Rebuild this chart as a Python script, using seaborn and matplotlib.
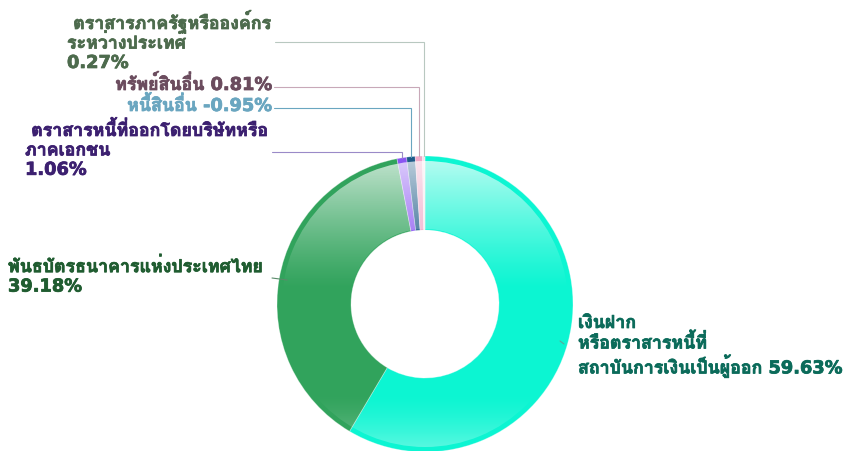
import numpy as np
import matplotlib
matplotlib.use("Agg")
import matplotlib.pyplot as plt
import matplotlib.patheffects as pe
import seaborn as sns
from matplotlib.patches import Wedge

# ---- data ----
labels = [
    "เงินฝาก\nหรือตราสารหนี้ที่\nสถาบันการเงินเป็นผู้ออก 59.63%",
    "พันธบัตรธนาคารแห่งประเทศไทย\n39.18%",
    " ตราสารหนี้ที่ออกโดยบริษัทหรือ\nภาคเอกชน\n1.06%",
    "หนี้สินอื่น -0.95%",
    "ทรัพย์สินอื่น 0.81%",
    " ตราสารภาครัฐหรือองค์กร\nระหว่างประเทศ\n0.27%",
]
values = [59.63, 39.18, 1.06, -0.95, 0.81, 0.27]
slice_colors = ["#0cf5d2", "#31a35c", "#8a55f2", "#1d5a88", "#f0a8c8", "#f6e2ea"]
text_colors = ["#0b6b5a", "#1f5c30", "#3c2070", "#6aa6c0", "#6b4c5e", "#4d6b4d"]
line_colors = ["#5aa89a", "#5a8a6a", "#9a8ac8", "#6aa6c0", "#c8a8b8", "#b8c8c0"]

sns.set_theme(style="white")
plt.rcParams["font.family"] = ["DejaVu Sans", "Loma"]

fs = 12.8

W, H = 843, 451
fig = plt.figure(figsize=(W / 100, H / 100), dpi=100)
ax = fig.add_axes([0, 0, 1, 1])

cx, cy = 425, H - 304
R = 148
ring = 0.5

sizes = [abs(v) for v in values]
wedges, _ = ax.pie(sizes, colors=slice_colors, startangle=90, counterclock=False,
                   center=(cx, cy), radius=R,
                   wedgeprops=dict(width=R * ring, edgecolor="none", linewidth=0))
ax.set_xlim(0, W)
ax.set_ylim(0, H)
ax.set_aspect("equal")
ax.axis("off")

# glossy gradient overlay
ny = 300
yy = np.linspace(0, 1, ny)  # 0 top -> 1 bottom
alpha = np.zeros(ny)
alpha += np.clip(1 - yy / 0.45, 0, 1) ** 1.2 * 0.72
alpha += np.clip((yy - 0.80) / 0.20, 0, 1) ** 1.5 * 0.35
img = np.ones((ny, 2, 4))
img[:, :, 3] = alpha[:, None]
im = ax.imshow(img, extent=(cx - R, cx + R, cy - R, cy + R), origin="upper",
               aspect="auto", zorder=3, interpolation="bilinear")
clip = Wedge((cx, cy), R - 5, 0, 360, width=R - 5 - R * (1 - ring) - 1,
             transform=ax.transData, facecolor="none", edgecolor="none")
ax.add_patch(clip)
im.set_clip_path(clip)
ax.set_xlim(0, W)
ax.set_ylim(0, H)

for w in wedges:
    w.set_edgecolor((1, 1, 1, 0.35))
    w.set_linewidth(0.6)

def edge_point(w, r):
    th = np.deg2rad((w.theta1 + w.theta2) / 2)
    return cx + r * np.cos(th), cy + r * np.sin(th)

# label layout: (x, y_top-from-top, ha, line_y-from-top, line_start_x)
layout = [
    (578, 314, "left", 344, 560),
    (8, 258, "left", 278, 272),
    (25, 121, "left", 152, 272),
    (272, 96, "right", 108, 274),
    (272, 75, "right", 87, 274),
    (67, 10, "left", 42, 275),
]

for i, (w, lab) in enumerate(zip(wedges, labels)):
    lx, ly, ha, liney, lsx = layout[i]
    ax.text(lx, H - ly, lab, ha=ha, va="top", fontsize=fs, fontweight="bold",
            color=text_colors[i], linespacing=1.1, zorder=5,
            path_effects=[pe.withStroke(linewidth=0.55, foreground=text_colors[i])])
    if i >= 2:
        px, py = edge_point(w, R)
        ax.plot([lsx, px, px], [H - liney, H - liney, py], color=line_colors[i],
                lw=0.8, zorder=4, solid_joinstyle="miter")
    else:
        px, py = edge_point(w, R - 8)
        ax.plot([px, lsx + (4 if i == 0 else 0)], [py, H - liney], color=line_colors[i], lw=0.8, zorder=4)

fig.savefig("out.png", dpi=100)
